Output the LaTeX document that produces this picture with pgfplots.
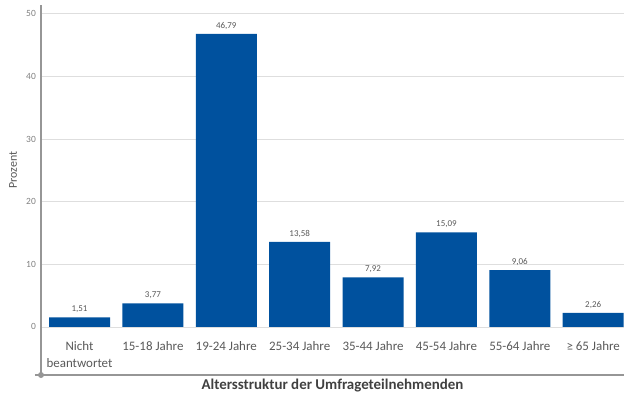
\documentclass[border=0pt]{standalone}
\usepackage{pgfplots}
\pgfplotsset{compat=1.18}
\usepackage{fontspec}
\setmainfont{Carlito}
\definecolor{barblue}{RGB}{0,81,158}
\definecolor{txtgray}{RGB}{89,89,89}
\definecolor{lblgray}{RGB}{64,64,64}
\definecolor{axgray}{RGB}{150,150,150}
\definecolor{gridgray}{RGB}{222,222,222}
\begin{document}
\begin{tikzpicture}
\begin{axis}[
  at={(0,0)}, anchor=south west,
  scale only axis,
  width=583bp, height=370bp,
  xmin=-0.525, xmax=7.42,
  ymin=-7.67, ymax=51.4,
  axis x line*=bottom, axis y line*=left,
  axis line style={axgray, line width=1.2bp},
  ybar, bar width=61bp,
  xtick={0,...,7},
  xticklabels={{Nicht\\beantwortet},{15-18 Jahre},{19-24 Jahre},{25-34 Jahre},{35-44 Jahre},{45-54 Jahre},{55-64 Jahre},{≥ 65 Jahre}},
  xticklabel style={font=\fontsize{13}{17.5}\selectfont, text=txtgray, align=center, anchor=north, inner sep=0pt, yshift=34bp},
  major tick length=0pt,
  ytick={0,10,20,30,40,50},
  yticklabel style={font=\fontsize{9.5}{11}\selectfont, text=axgray!85!black, anchor=east, inner sep=0pt, xshift=-5bp},
  ymajorgrids, grid style={gridgray, line width=0.8bp},
  /pgf/number format/assume math mode=true,
  xlabel={\textbf{Altersstruktur der Umfrageteilnehmenden}},
  xlabel style={at={(axis description cs:0.5,-0.0405)}, anchor=base, font=\fontsize{15}{18}\selectfont, text=lblgray},
  ylabel={Prozent},
  ylabel style={at={(axis description cs:-0.048,0.554)}, anchor=center, font=\fontsize{12}{14}\selectfont, text=txtgray},
  nodes near coords,
  nodes near coords style={font=\fontsize{9}{11}\selectfont, text=txtgray, anchor=base, inner sep=0pt, yshift=5.5bp,
    /pgf/number format/.cd, use comma, fixed, fixed zerofill, precision=2, assume math mode=true},
]
\addplot[fill=barblue, draw=none] coordinates {
  (0,1.51) (1,3.77) (2,46.79) (3,13.58) (4,7.92) (5,15.09) (6,9.06) (7,2.26)
};
\end{axis}
\draw[axgray, line width=1.2bp] (-6bp,0) -- (0,0);
\fill[axgray] (0,0) circle (3bp);
\pgfresetboundingbox
\path[use as bounding box] (-41bp,-21bp) rectangle (583bp,375bp);
\end{tikzpicture}
\end{document}
